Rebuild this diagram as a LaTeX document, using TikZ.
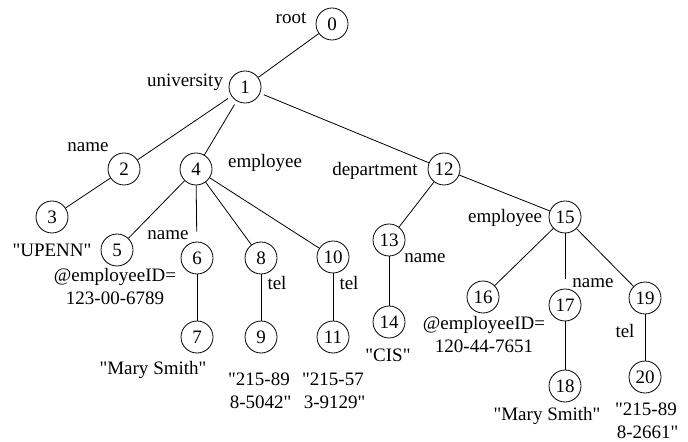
\documentclass[tikz,border=0pt]{standalone}
\usepackage{fontspec}
\setmainfont{Liberation Serif}[Ligatures=TeXOff]
\tikzset{
	vertex/.style={circle, draw, minimum size=16pt, inner sep=0pt},
	lbl/.style={inner sep=0pt, align=center}
}
\begin{document}
\begin{tikzpicture}[x=0.5pt, y=-0.5pt, font=\fontsize{9.5}{11.5}\selectfont]
		\useasboundingbox (0,0) rectangle (688,442);
		%vertices
		\node[vertex] (n0) at (332, 24){0};
		\node[vertex] (n1) at (245, 87){1};
		\node[vertex] (n2) at (124, 169){2};
		\node[vertex] (n3) at (52, 217){3};
		\node[vertex] (n4) at (196, 169){4};
		\node[vertex] (n5) at (117, 250){5};
		\node[vertex] (n6) at (197, 258){6};
		\node[vertex] (n7) at (197, 337){7};
		\node[vertex] (n8) at (261, 258){8};
		\node[vertex] (n9) at (261, 337){9};
		\node[vertex] (n10) at (333, 257){10};
		\node[vertex] (n11) at (333, 337){11};
		\node[vertex] (n12) at (444, 169){12};
		\node[vertex] (n13) at (389, 240){13};
		\node[vertex] (n14) at (389, 322){14};
		\node[vertex] (n15) at (565, 217){15};
		\node[vertex] (n16) at (483, 297){16};
		\node[vertex] (n17) at (565, 305){17};
		\node[vertex] (n18) at (565, 386){18};
		\node[vertex] (n19) at (645, 298){19};
		\node[vertex] (n20) at (645, 377){20};
		
		%edges
		\draw (n0)--(n1);
		\foreach \a/\b in {n1/n2, n1/n4, n1/n12}{
			\draw[shorten <=2pt] (\a)--(\b);
		}
		\foreach \a/\b in {n2/n3, n4/n5, n4/n8, n4/n10, n6/n7, n8/n9, n10/n11,
			n12/n13, n12/n15, n13/n14, n15/n16, n15/n19, n17/n18, n19/n20}{
			\draw (\a)--(\b);
		}
		\draw[shorten >=5pt] (n4)--(n6);
		\draw[shorten >=5pt] (n15)--(n17);
		
		%labels
		\node[lbl] (root) at (291, 18){root};
		\node[lbl] (univ) at (185, 82){university};
		\node[lbl] (name2) at (88, 147){name};
		\node[lbl] (emp4) at (265, 163){employee};
		\node[lbl] (dept) at (375, 171){department};
		\node[lbl] (emp15) at (505, 218){employee};
		\node[lbl] (name13) at (425, 258){name};
		\node[lbl] (upenn) at (52, 250){"UPENN"};
		\node[lbl] (name6) at (168, 235){name};
		\node[lbl] (tel8) at (277, 283){tel};
		\node[lbl] (tel10) at (349, 283){tel};
		\node[lbl] (name17) at (593, 283){name};
		\node[lbl] (tel19) at (625, 331){tel};
		\node[lbl] (id5) at (115, 287){@employeeID=\\123-00-6789};
		\node[lbl] (id16) at (484, 335){@employeeID=\\120-44-7651};
		\node[lbl] (mary7) at (153, 370){"Mary Smith"};
		\node[lbl] (tel9) at (259, 391){"215-89\\\,8-5042"};
		\node[lbl] (tel11) at (333, 391){"215-57\\\,3-9129"};
		\node[lbl] (cis) at (388, 355){"CIS"};
		\node[lbl] (mary18) at (547, 416){"Mary Smith"};
		\node[lbl] (tel20) at (646, 421){"215-89\\\,8-2661"};
		\end{tikzpicture}
\end{document}
